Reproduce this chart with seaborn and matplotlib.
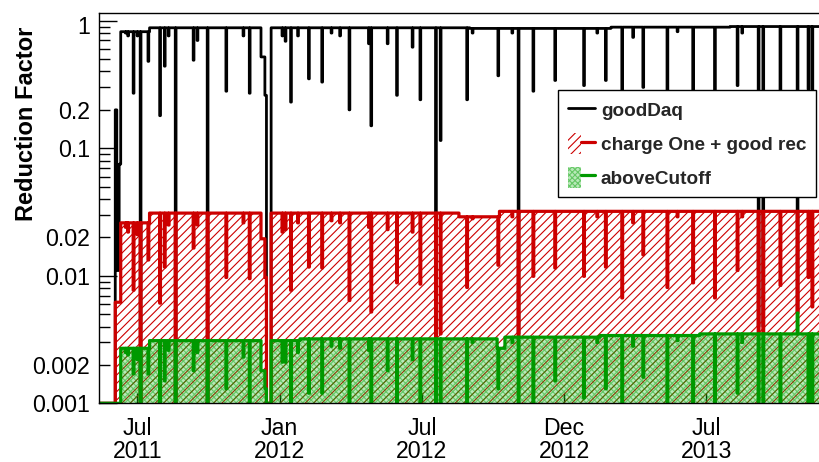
import numpy as np
import pandas as pd
import matplotlib
matplotlib.use("Agg")
import matplotlib.pyplot as plt
import matplotlib.dates as mdates
from matplotlib.ticker import FixedLocator, FuncFormatter
from matplotlib.patches import Patch
from matplotlib.lines import Line2D
from matplotlib.legend_handler import HandlerTuple
from matplotlib.transforms import ScaledTranslation
import seaborn as sns

sns.set_theme(style="ticks")
plt.rcParams["font.family"] = ["Liberation Sans", "DejaVu Sans"]
plt.rcParams["hatch.linewidth"] = 0.8

# ---------------------------------------------------------------- data
first_day = "2011-05-13"
last_day = "2013-11-24"

series_names = ["goodDaq", "charge One + good rec", "aboveCutoff"]

# nominal daily levels, held from each start date onwards
gooddaq_level_start = ["2011-06-11", "2011-07-18", "2012-09-01", "2013-03-01", "2013-08-01"]
gooddaq_level = [0.82, 0.88, 0.87, 0.89, 0.90]

charge_level_start = ["2011-06-11", "2011-07-18", "2012-08-18", "2012-10-09"]
charge_level = [0.026, 0.031, 0.029, 0.032]

cutoff_level_start = ["2011-06-11", "2011-07-18", "2012-01-27", "2012-10-06",
                      "2012-10-16", "2013-02-15", "2013-06-23"]
cutoff_level = [0.0027, 0.0031, 0.0032, 0.0027, 0.0033, 0.0034, 0.0035]

# commissioning days
startup_dates = ["2011-06-04", "2011-06-05", "2011-06-06", "2011-06-07",
                 "2011-06-08", "2011-06-09", "2011-06-10"]
startup_gooddaq = [0.2, 0.2, 0.011, 0.011, 0.011, 0.075, 0.075]
startup_charge = [0.0062, 0.0062, 0.0062, 0.0062, 0.0062, 0.0062, 0.0062]
startup_cutoff = [0.0, 0.0, 0.0, 0.0, 0.0, 0.0, 0.0]

# days with reduced live time
dip_dates = [
    "2011-06-17", "2011-06-20", "2011-06-27", "2011-07-02", "2011-07-06",
    "2011-07-16", "2011-07-31", "2011-08-06", "2011-08-11", "2011-08-20",
    "2011-09-12", "2011-09-17", "2011-09-30", "2011-10-24", "2011-11-15",
    "2011-11-23", "2011-12-08", "2011-12-09", "2011-12-10", "2011-12-11",
    "2011-12-12", "2011-12-13", "2011-12-14", "2011-12-15", "2011-12-16",
    "2011-12-17", "2011-12-18", "2011-12-19", "2011-12-20", "2012-01-04",
    "2012-01-08", "2012-01-15", "2012-01-24", "2012-02-07", "2012-02-24",
    "2012-03-07", "2012-03-18", "2012-03-30", "2012-04-24", "2012-04-27",
    "2012-05-18", "2012-05-30", "2012-06-19", "2012-06-29", "2012-07-19",
    "2012-07-25", "2012-08-28", "2012-09-04", "2012-10-07", "2012-10-25",
    "2012-11-02", "2012-11-21", "2012-12-19", "2013-01-25", "2013-02-11",
    "2013-02-22", "2013-03-15", "2013-03-29", "2013-04-11", "2013-05-12",
    "2013-05-25", "2013-06-14", "2013-07-12", "2013-08-10", "2013-08-16",
    "2013-09-06", "2013-09-12", "2013-10-04", "2013-10-26", "2013-11-09",
    "2013-11-14",
]
dip_gooddaq = [
    0.80, 0.76, 0.27, 0.76, 0.0,
    0.48, 0.18, 0.44, 0.76, 0.0,
    0.49, 0.70, 0.0, 0.28, 0.76,
    0.27, 0.52, 0.52, 0.52, 0.52,
    0.52, 0.26, 0.26, 0.0, 0.0,
    0.0, 0.0, 0.0, 0.0, 0.76,
    0.69, 0.23, 0.76, 0.35, 0.33,
    0.80, 0.76, 0.20, 0.66, 0.15,
    0.66, 0.26, 0.62, 0.24, 0.0,
    0.115, 0.24, 0.80, 0.37, 0.80,
    0.0035, 0.28, 0.34, 0.31, 0.80,
    0.34, 0.21, 0.74, 0.30, 0.25,
    0.82, 0.27, 0.21, 0.31, 0.80,
    0.004, 0.004, 0.26, 0.0052, 0.29,
    0.18,
]
dip_charge = [
    0.024, 0.022, 0.0077, 0.021, 0.0,
    0.0133, 0.0061, 0.0117, 0.025, 0.0,
    0.0165, 0.025, 0.0, 0.0097, 0.026,
    0.0095, 0.0195, 0.0195, 0.0195, 0.0195,
    0.0195, 0.0097, 0.0097, 0.0, 0.0,
    0.0, 0.0, 0.0, 0.0, 0.022,
    0.023, 0.0077, 0.026, 0.0117, 0.0115,
    0.027, 0.026, 0.0064, 0.024, 0.0052,
    0.023, 0.0088, 0.022, 0.0086, 0.0,
    0.0035, 0.0081, 0.028, 0.0121, 0.029,
    0.0034, 0.0099, 0.0115, 0.0099, 0.029,
    0.0117, 0.0067, 0.026, 0.0146, 0.0081,
    0.029, 0.0088, 0.0067, 0.011, 0.029,
    0.0035, 0.0035, 0.0084, 0.0051, 0.0097,
    0.0057,
]
dip_cutoff = [
    0.0025, 0.0024, 0.0017, 0.0022, 0.0,
    0.0017, 0.0, 0.0015, 0.0026, 0.0,
    0.0018, 0.0025, 0.0, 0.0013, 0.0023,
    0.0, 0.0018, 0.0018, 0.0018, 0.0018,
    0.0018, 0.0013, 0.0013, 0.0, 0.0,
    0.0, 0.0, 0.0, 0.0, 0.0021,
    0.0021, 0.0, 0.0025, 0.0012, 0.0012,
    0.0028, 0.0027, 0.0, 0.0026, 0.0,
    0.0018, 0.0, 0.0022, 0.0, 0.0,
    0.0, 0.0, 0.0030, 0.0013, 0.0030,
    0.0, 0.0, 0.0015, 0.0011, 0.0030,
    0.0013, 0.0, 0.0028, 0.0016, 0.0,
    0.0031, 0.0, 0.0, 0.0012, 0.0030,
    0.0, 0.0, 0.0, 0.0051, 0.0,
    0.0,
]

# x-axis labels sit every half year
x_tick_dates = ["2011-07-02 12:00", "2012-01-01 00:00", "2012-07-01 12:00",
                "2012-12-31 00:00", "2013-07-01 12:00"]

y_tick_values = [0.001, 0.002, 0.01, 0.02, 0.1, 0.2, 1.0]
y_tick_texts = ["0.001", "0.002", "0.01", "0.02", "0.1", "0.2", "1"]

# ---------------------------------------------------------------- series
days = pd.date_range(first_day, last_day, freq="D")


def daily(level_start, level, startup_vals, dip_vals):
    s = pd.Series(0.0, index=days)
    for start, lv in zip(level_start, level):
        s[s.index >= pd.Timestamp(start)] = lv
    s[pd.to_datetime(startup_dates)] = startup_vals
    s[pd.to_datetime(dip_dates)] = dip_vals
    return s


y_floor = 0.001
y_top = 1.143
gooddaq = daily(gooddaq_level_start, gooddaq_level, startup_gooddaq, dip_gooddaq).clip(lower=y_floor)
charge = daily(charge_level_start, charge_level, startup_charge, dip_charge).clip(lower=y_floor)
cutoff = daily(cutoff_level_start, cutoff_level, startup_cutoff, dip_cutoff).clip(lower=y_floor)

frame = pd.DataFrame({"day": days, series_names[0]: gooddaq.values,
                      series_names[1]: charge.values, series_names[2]: cutoff.values})

c_black = "#000000"
c_red = "#cc0000"
c_green = "#009900"
green_face = (0.1, 0.72, 0.1, 0.30)
green_hatch = (0.0, 0.62, 0.0, 0.45)

# ---------------------------------------------------------------- figure
fig = plt.figure(figsize=(8.19, 4.62), dpi=100)
fig.patch.set_facecolor("white")
ax = fig.add_axes([98.5 / 819, (462 - 403.3) / 462, 720.5 / 819, 390 / 462])
ax.set_facecolor("white")
ax.set_yscale("log")

sns.lineplot(data=frame, x="day", y=series_names[0], ax=ax, color=c_black,
             linewidth=2.0, drawstyle="steps-post", legend=False, zorder=2)

ax.fill_between(frame["day"], y_floor, frame[series_names[1]], step="post",
                facecolor="none", edgecolor=c_red, hatch="////", linewidth=0, zorder=3)
sns.lineplot(data=frame, x="day", y=series_names[1], ax=ax, color=c_red,
             linewidth=2.3, drawstyle="steps-post", legend=False, zorder=4)

ax.fill_between(frame["day"], y_floor, frame[series_names[2]], step="post",
                facecolor=green_face, edgecolor=green_hatch, hatch="xxxxxx",
                linewidth=0, zorder=5)
sns.lineplot(data=frame, x="day", y=series_names[2], ax=ax, color=c_green,
             linewidth=2.3, drawstyle="steps-post", legend=False, zorder=6)

ax.set_xlim(pd.Timestamp("2011-05-13 12:00"), pd.Timestamp("2013-11-23 00:00"))
ax.set_ylim(y_floor, y_top)

# y axis: decades long, 2..9 short, "2" multiples labelled
label_of = dict(zip(y_tick_values, y_tick_texts))


def fmt(v, _pos):
    for key, txt in label_of.items():
        if abs(v - key) < key * 1e-6:
            return txt
    return ""


ax.yaxis.set_major_locator(FixedLocator([0.001, 0.01, 0.1, 1.0]))
minor = [m * 10.0 ** e for e in (-3, -2, -1) for m in range(2, 10)]
ax.yaxis.set_minor_locator(FixedLocator(minor))
ax.yaxis.set_major_formatter(FuncFormatter(fmt))
ax.yaxis.set_minor_formatter(FuncFormatter(fmt))
ax.tick_params(axis="y", which="major", direction="in", length=13, width=1.0,
               labelsize=16.7, pad=6, color="black", labelcolor="black")
ax.tick_params(axis="y", which="minor", direction="in", length=8, width=1.0,
               labelsize=16.7, pad=6, color="black", labelcolor="black")

ax.xaxis.set_major_locator(FixedLocator(mdates.date2num(pd.to_datetime(x_tick_dates))))
ax.xaxis.set_major_formatter(mdates.DateFormatter("%b\n%Y"))
ax.xaxis.set_minor_locator(FixedLocator([]))
ax.tick_params(axis="x", which="major", direction="in", length=7, width=1.0,
               labelsize=16.7, pad=10, color="black", labelcolor="black")
for lab in ax.get_xticklabels():
    lab.set_linespacing(1.0)

for side in ("left", "bottom", "top"):
    ax.spines[side].set_color("black")
    ax.spines[side].set_linewidth(1.0)
    ax.spines[side].set_zorder(10)
ax.spines["right"].set_visible(False)

ax.set_xlabel("")
ax.set_ylabel("Reduction Factor", fontsize=17, fontweight="bold", loc="top", color="black")
ax.yaxis.set_label_coords(-0.084, 0.965)

handles = [
    Line2D([], [], color=c_black, linewidth=2.0),
    (Patch(facecolor="none", edgecolor=c_red, hatch="////", linewidth=0),
     Line2D([], [], color=c_red, linewidth=2.3)),
    (Patch(facecolor=green_face, edgecolor=green_hatch, hatch="xxxxxx", linewidth=0),
     Line2D([], [], color=c_green, linewidth=2.3)),
]
leg = ax.legend(handles, series_names, loc="upper left",
                bbox_to_anchor=(0.638, 0.803), borderaxespad=0.0,
                prop={"family": ["Liberation Sans", "DejaVu Sans"], "weight": "bold", "size": 13.7},
                handler_map={tuple: HandlerTuple(ndivide=None, pad=0)},
                handlelength=1.42, handleheight=1.3, handletextpad=0.32,
                labelspacing=0.68, borderpad=0.5, fancybox=False, framealpha=1.0,
                edgecolor="black")
leg.get_frame().set_linewidth(1.0)
leg.set_zorder(20)

# keep the topmost label clear of the frame
fig.canvas.draw()
for tick in ax.yaxis.get_major_ticks():
    if tick.label1.get_text() == "1":
        tick.label1.set_transform(tick.label1.get_transform()
                                  + ScaledTranslation(0, -4 / 100, fig.dpi_scale_trans))

fig.savefig("out.png", dpi=100, facecolor="white")
